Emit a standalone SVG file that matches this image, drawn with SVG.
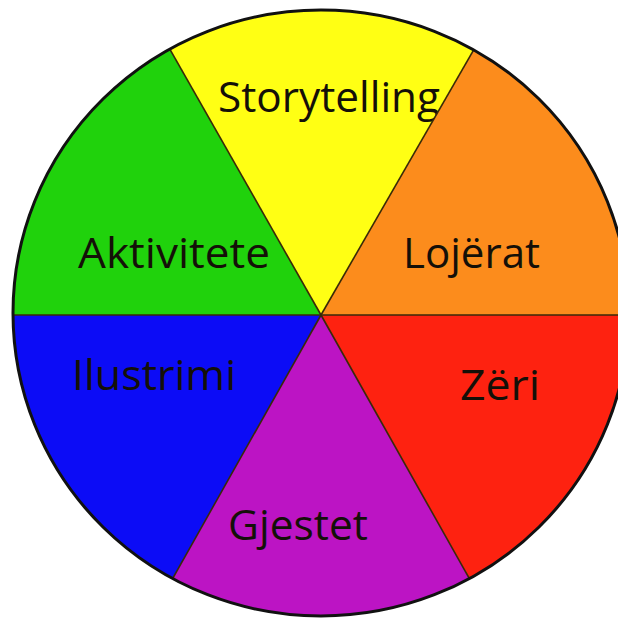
<svg xmlns="http://www.w3.org/2000/svg" width="618" height="621" viewBox="0 0 618 621">
<style>
.lbl{font-family:"Open Sans","DejaVu Sans",sans-serif;font-size:42px;fill:#141008;}
.div{stroke:#3a2a08;stroke-width:1.6;fill:none;}
</style>
<defs>
<clipPath id="wheel"><ellipse cx="321" cy="313" rx="308" ry="303"/></clipPath>
</defs>
<rect width="618" height="621" fill="#ffffff"/>
<g clip-path="url(#wheel)">
<g id="storytelling">
<polygon points="321,315 85,-100 560,-100" fill="#ffff14"/>
<text class="lbl" x="218" y="112" textLength="222" lengthAdjust="spacingAndGlyphs">Storytelling</text>
</g>
<g id="lojerat">
<polygon points="321,315 560,-100 720,-100 720,315" fill="#fc8c1c"/>
<text class="lbl" x="403" y="268" textLength="137" lengthAdjust="spacingAndGlyphs">Lojërat</text>
</g>
<g id="zeri">
<polygon points="321,315 720,315 720,720 549,720" fill="#fe2210"/>
<text class="lbl" x="460" y="400" textLength="80" lengthAdjust="spacingAndGlyphs">Zëri</text>
</g>
<g id="gjestet">
<polygon points="321,315 549,720 93,720" fill="#bc14c4"/>
<text class="lbl" x="228" y="540" textLength="140" lengthAdjust="spacingAndGlyphs">Gjestet</text>
</g>
<g id="ilustrimi">
<polygon points="321,315 93,720 -100,720 -100,315" fill="#0c0cf6"/>
<text class="lbl" x="72" y="390" textLength="164" lengthAdjust="spacingAndGlyphs">Ilustrimi</text>
</g>
<g id="aktivitete">
<polygon points="321,315 -100,315 -100,-100 85,-100" fill="#20d20c"/>
<text class="lbl" x="78" y="268" textLength="192" lengthAdjust="spacingAndGlyphs">Aktivitete</text>
</g>
<g id="connectors">
<line class="div" x1="321" y1="315" x2="85" y2="-100"/>
<line class="div" x1="321" y1="315" x2="560" y2="-100"/>
<line class="div" x1="321" y1="315" x2="93" y2="720"/>
<line class="div" x1="321" y1="315" x2="549" y2="720"/>
<line class="div" x1="0" y1="315" x2="618" y2="315"/>
</g>
</g>
<ellipse cx="321" cy="313" rx="308" ry="303" fill="none" stroke="#111" stroke-width="3"/>
</svg>
